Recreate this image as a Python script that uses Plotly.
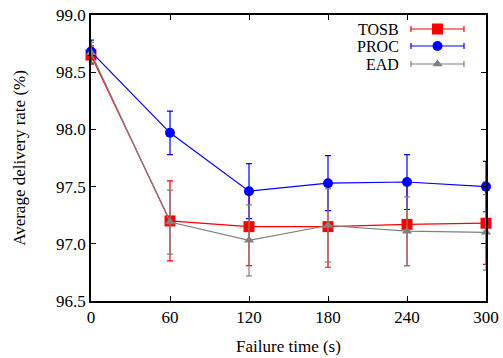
import plotly.graph_objects as go

failure_time = [0, 60, 120, 180, 240, 300]
tosb = [98.65, 97.20, 97.15, 97.15, 97.17, 97.18]
tosb_err = [0.08, 0.35, 0.34, 0.355, 0.36, 0.36]
proc = [98.68, 97.97, 97.46, 97.53, 97.54, 97.50]
proc_err = [0.10, 0.19, 0.24, 0.24, 0.24, 0.22]
ead = [98.67, 97.19, 97.03, 97.16, 97.11, 97.10]
ead_err = [0.09, 0.28, 0.31, 0.32, 0.30, 0.33]

series_names = ["TOSB", "PROC", "EAD"]
colors = ["#ff0000", "#0000ff", "#808080"]
symbols = ["square", "circle", "triangle-up"]
sizes = [11, 10, 9]

x_ticks = [0, 60, 120, 180, 240, 300]
y_ticks = [96.5, 97.0, 97.5, 98.0, 98.5, 99.0]

FONT = "Liberation Serif"

fig = go.Figure()
for name, ys, errs, c, s, sz in zip(series_names, [tosb, proc, ead], [tosb_err, proc_err, ead_err], colors, symbols, sizes):
    fig.add_trace(go.Scatter(
        x=failure_time, y=ys, mode="lines+markers", name=name,
        line=dict(color=c, width=1.2),
        marker=dict(color=c, symbol=s, size=sz, line=dict(width=0)),
        error_y=dict(type="data", array=errs, visible=True, color=c, thickness=1.2, width=3),
        showlegend=False, cliponaxis=False,
    ))

# custom legend (label left of sample), drawn in a pixel-like overlay axis
leg_y = [29, 46, 64]
for name, c, s, sz, ly in zip(series_names, colors, symbols, sizes, leg_y):
    fig.add_trace(go.Scatter(
        x=[437.5], y=[ly], mode="markers", xaxis="x2", yaxis="y2",
        marker=dict(color=c, symbol=s, size=sz, line=dict(width=0)),
        error_x=dict(type="constant", value=26.5, visible=True, color=c, thickness=1.2, width=3),
        showlegend=False, hoverinfo="skip", cliponaxis=False,
    ))
    fig.add_annotation(x=401, y=ly, xref="x2", yref="y2", text=name, showarrow=False,
                       xanchor="right", yanchor="middle", font=dict(family=FONT, size=16, color="black"))

axis_common = dict(showline=True, linecolor="black", linewidth=1.5, mirror="ticks",
                   ticks="inside", ticklen=5, tickwidth=1.2, tickcolor="black",
                   showgrid=False, zeroline=False, automargin=False,
                   tickfont=dict(family=FONT, size=17, color="black"))

fig.update_layout(
    width=503, height=358,
    margin=dict(l=91, r=17, t=15, b=57),
    paper_bgcolor="white", plot_bgcolor="white",
    xaxis=dict(range=[0, 300], tickvals=x_ticks, ticktext=[str(v) for v in x_ticks],
               title=dict(text="Failure time (s)", font=dict(family=FONT, size=17, color="black"), standoff=14),
               **axis_common),
    yaxis=dict(range=[96.5, 99.0], tickvals=y_ticks, ticktext=[f"{v:.1f}" for v in y_ticks],
               title=dict(text="Average delivery rate (%)", font=dict(family=FONT, size=17, color="black"), standoff=26),
               **axis_common),
    xaxis2=dict(overlaying="x", range=[91, 486], visible=False, fixedrange=True),
    yaxis2=dict(overlaying="y", range=[301, 15], visible=False, fixedrange=True),
)

fig.write_html("out.html")
